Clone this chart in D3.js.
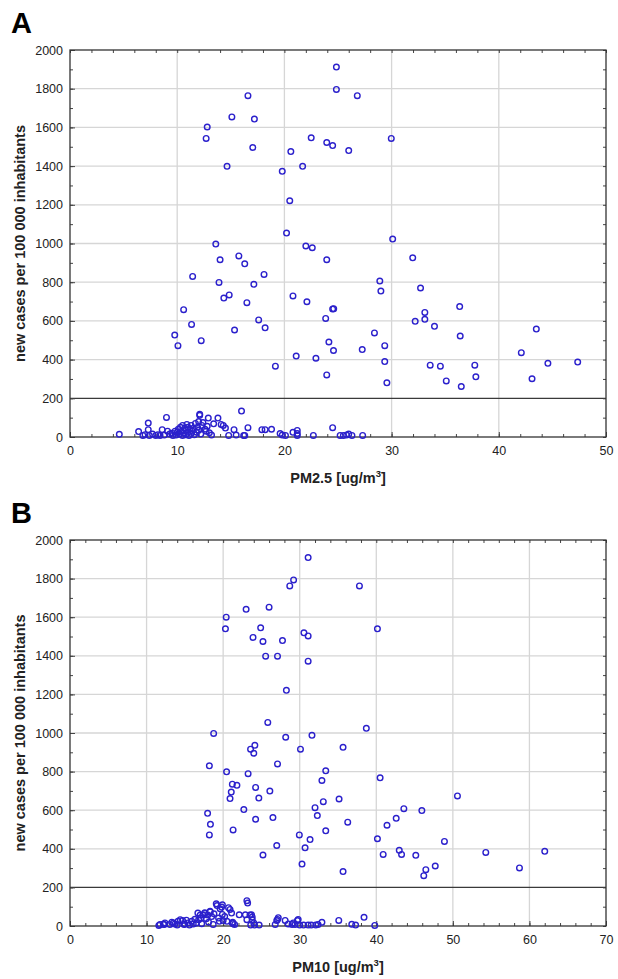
<!DOCTYPE html>
<html>
<head>
<meta charset="utf-8">
<script src="https://cdn.jsdelivr.net/npm/d3@7"></script>
<style>
  body { margin: 0; background: #fff; }
  text { font-family: "Liberation Sans", Arial, sans-serif; }
</style>
</head>
<body>
<svg id="chart" width="618" height="979"></svg>
<script>
// ---- data: [concentration, new cases per 100 000] ----
const pm25High = [
  [24.85,1912],[24.85,1796],[26.8,1764],[16.6,1764],[15.1,1654],[17.2,1643],[12.8,1602],[12.7,1543],
  [17.05,1496],[14.65,1399],[22.5,1546],[23.95,1522],[24.5,1506],[29.97,1543],[20.6,1475],[26.0,1480],
  [19.8,1373],[21.7,1399],[20.5,1221],[20.2,1054],[30.1,1023],[13.6,997],[22.0,987],[22.6,978],
  [15.75,936],[14.0,916],[23.95,916],[31.97,926],[16.3,895],[11.44,830],[18.1,840],[13.9,799],
  [17.15,789],[28.9,806],[29.0,754],[32.7,770],[14.35,718],[14.85,734],[20.8,729],[16.5,694],
  [22.1,699],[10.6,658],[24.5,661],[24.6,663],[33.1,644],[36.35,674],[17.6,605],[23.85,613],
  [32.2,598],[33.1,608],[11.34,582],[18.2,564],[15.35,553],[34.0,572],[9.77,527],[28.4,538],
  [12.24,498],[36.4,522],[43.5,558],[10.07,472],[24.15,491],[29.36,472],[27.26,452],[21.1,418],
  [22.94,407],[24.58,447],[42.1,436],[19.16,366],[29.36,390],[33.6,371],[34.55,366],[37.76,371],
  [44.58,381],[47.36,387],[23.95,321],[29.56,280],[35.1,290],[36.5,261],[37.86,311],[43.1,301]
]
const pm25Low = [
  [4.6,14],[6.4,28],[6.8,8],[7.0,12],[7.3,72],[7.3,38],[7.4,8],[7.7,15],[8.0,8],[8.2,12],[8.4,8],
  [8.6,38],[8.8,10],[9.0,101],[9.1,30],[9.3,15],[9.5,20],[9.6,8],[9.8,30],[9.9,10],[10.0,25],
  [10.1,40],[10.2,15],[10.3,50],[10.4,30],[10.5,8],[10.5,60],[10.6,20],[10.7,45],[10.8,35],
  [10.8,12],[10.9,65],[11.0,25],[11.0,50],[11.1,8],[11.2,40],[11.3,18],[11.3,60],[11.4,30],
  [11.5,45],[11.6,12],[11.7,70],[11.8,25],[11.9,50],[12.0,35],[12.0,80],[12.1,118],[12.1,112],
  [12.2,15],[12.3,60],[12.4,75],[12.6,40],[12.7,30],[12.8,55],[12.9,98],[13.0,22],[13.2,10],
  [13.4,68],[13.8,98],[14.1,65],[14.3,60],[14.5,46],[14.8,8],[15.3,38],[15.5,10],[16.0,134],
  [16.2,8],[16.3,8],[16.6,48],[17.9,38],[18.2,38],[18.8,40],[19.6,18],[19.8,10],[20.1,8],
  [20.8,24],[21.2,34],[21.2,18],[21.2,8],[22.7,8],[24.5,48],[25.2,8],[25.5,8],[25.8,10],
  [26.0,15],[26.3,8],[27.3,8]
]
const pm10High = [
  [31.1,1909],[29.2,1793],[28.7,1762],[37.8,1762],[23.0,1641],[26.0,1652],[20.4,1600],[20.3,1540],
  [24.9,1545],[23.9,1495],[25.2,1474],[27.75,1479],[30.55,1519],[31.1,1503],[40.15,1540],[25.55,1398],
  [27.1,1398],[31.1,1372],[28.26,1221],[25.83,1055],[18.76,998],[28.17,978],[31.6,988],[38.7,1024],
  [23.58,916],[24.14,936],[24.0,895],[30.1,916],[35.66,926],[18.2,830],[20.45,799],[23.26,789],
  [27.1,840],[33.4,804],[32.9,754],[40.5,768],[21.2,735],[21.8,729],[21.06,694],[24.24,718],
  [26.1,699],[20.9,660],[24.66,663],[33.08,644],[35.14,658],[50.6,674],[22.7,603],[32.0,613],
  [43.6,608],[45.95,598],[17.97,584],[24.24,553],[26.5,562],[32.3,572],[42.6,558],[18.34,527],
  [36.27,538],[41.4,522],[21.3,498],[18.2,472],[29.95,472],[33.4,493],[40.15,452],[31.35,448],
  [48.9,438],[27.0,417],[30.7,405],[43.0,392],[43.3,371],[40.9,371],[45.16,366],[54.3,381],
  [62.0,387],[25.2,368],[30.3,321],[35.66,282],[46.47,292],[46.2,261],[47.7,311],[58.7,301]
]
const pm10Low = [
  [11.6,3],[11.75,8],[12.2,9],[12.3,8],[12.4,16],[13.05,8],[13.3,20],[13.5,16],[13.7,11],[14.0,5],
  [14.1,24],[14.4,33],[14.7,28],[14.9,8],[15.0,11],[15.2,30],[15.4,16],[15.6,5],[15.9,24],[16.1,11],
  [16.3,35],[16.5,16],[16.7,67],[16.8,33],[17.0,57],[17.1,41],[17.2,12],[17.4,57],[17.6,69],
  [17.6,65],[17.8,38],[18.0,57],[18.1,20],[18.3,76],[18.3,73],[18.5,49],[18.7,8],[18.8,63],
  [19.1,115],[19.2,106],[19.4,41],[19.5,24],[19.6,90],[19.8,98],[19.9,110],[19.9,60],[20.0,28],
  [20.2,49],[20.5,24],[20.7,95],[20.9,86],[21.1,67],[21.2,16],[21.25,20],[21.3,12],[21.5,8],
  [22.1,58],[22.9,58],[23.1,131],[23.1,33],[23.2,119],[23.5,57],[23.7,58],[23.8,46],[23.8,33],
  [24.0,16],[23.6,5],[24.1,5],[24.7,5],[26.8,8],[27.0,28],[27.1,34],[27.2,43],[28.1,29],[28.5,11],
  [29.0,8],[29.15,16],[29.4,8],[29.7,28],[29.8,34],[30.0,5],[30.5,5],[31.1,5],[31.5,5],[32.1,5],
  [32.4,8],[32.9,19],[35.1,29],[36.8,9],[37.3,5],[38.4,45],[39.8,3]
]
const yTicks = [0, 200, 400, 600, 800, 1000, 1200, 1400, 1600, 1800, 2000]
const pm25Ticks = [0, 10, 20, 30, 40, 50]
const pm10Ticks = [0, 10, 20, 30, 40, 50, 60, 70]
const thresholdLine = 200
const yLabel = 'new cases per 100 000 inhabitants'

const svg = d3.select('#chart')
const left = 70, right = 606
const markColor = '#2b20cc'
const fmt = d3.format('d')

const drawPanel = (p) => {
  const x = d3.scaleLinear().domain([0, p.xMax]).range([left, right])
  const y = d3.scaleLinear().domain([0, 2000]).range([p.bottom, p.top])
  const g = svg.append('g')

  // grid
  g.append('g').selectAll('line')
    .data(p.xTicks.slice(1, -1))
    .join('line')
    .attr('x1', d => x(d)).attr('x2', d => x(d))
    .attr('y1', p.top).attr('y2', p.bottom)
    .attr('stroke', '#d6d6d6').attr('stroke-width', 1.3)
  g.append('g').selectAll('line')
    .data(yTicks.slice(1, -1).filter(d => d !== thresholdLine))
    .join('line')
    .attr('x1', left).attr('x2', right)
    .attr('y1', d => y(d)).attr('y2', d => y(d))
    .attr('stroke', '#d6d6d6').attr('stroke-width', 1.3)

  // 200 line
  g.append('line')
    .attr('x1', left).attr('x2', right)
    .attr('y1', y(thresholdLine)).attr('y2', y(thresholdLine))
    .attr('stroke', '#3a3a3a').attr('stroke-width', 1.2)

  // minor + major ticks, inward on all sides
  const xMinor = d3.range(0, p.xMax + 0.01, 2)
  const yMinor = d3.range(0, 2001, 100)
  const tickStyle = sel => {
    sel.select('.domain').remove()
    sel.selectAll('line').attr('stroke', '#444')
    sel.selectAll('text').remove()
  }
  g.append('g').attr('transform', `translate(0,${p.bottom})`)
    .call(d3.axisBottom(x).tickValues(xMinor).tickSize(-3)).call(tickStyle)
  g.append('g').attr('transform', `translate(0,${p.top})`)
    .call(d3.axisTop(x).tickValues(xMinor).tickSize(-3)).call(tickStyle)
  g.append('g').attr('transform', `translate(${left},0)`)
    .call(d3.axisLeft(y).tickValues(yMinor).tickSize(-3)).call(tickStyle)
  g.append('g').attr('transform', `translate(${right},0)`)
    .call(d3.axisRight(y).tickValues(yMinor).tickSize(-3)).call(tickStyle)

  // labels
  const xAxis = g.append('g').attr('transform', `translate(0,${p.bottom})`)
    .call(d3.axisBottom(x).tickValues(p.xTicks).tickFormat(fmt).tickSize(-5).tickPadding(9))
  xAxis.select('.domain').remove()
  xAxis.selectAll('line').attr('stroke', '#444')
  xAxis.selectAll('text').attr('font-size', 12.5).attr('fill', '#222')
    .style('font-family', '"Liberation Sans", Arial, sans-serif')

  const yAxis = g.append('g').attr('transform', `translate(${left},0)`)
    .call(d3.axisLeft(y).tickValues(yTicks).tickFormat(fmt).tickSize(-5).tickPadding(7))
  yAxis.select('.domain').remove()
  yAxis.selectAll('line').attr('stroke', '#444')
  yAxis.selectAll('text').attr('font-size', 12.5).attr('fill', '#222')
    .style('font-family', '"Liberation Sans", Arial, sans-serif')

  // frame
  g.append('rect')
    .attr('x', left).attr('y', p.top)
    .attr('width', right - left).attr('height', p.bottom - p.top)
    .attr('fill', 'none').attr('stroke', '#333').attr('stroke-width', 1.3)

  // points
  g.append('g').selectAll('circle')
    .data(p.high.concat(p.low))
    .join('circle')
    .attr('cx', d => x(d[0]))
    .attr('cy', d => y(d[1]))
    .attr('r', 2.8)
    .attr('fill', 'none')
    .attr('stroke', markColor)
    .attr('stroke-width', 1.4)

  // titles
  const xt = g.append('text')
    .attr('x', (left + right) / 2).attr('y', p.bottom + 46)
    .attr('text-anchor', 'middle')
    .attr('font-size', 14.5).attr('font-weight', 'bold').attr('fill', '#222')
  xt.append('tspan').text(p.name + ' [ug/m')
  xt.append('tspan').text('3').attr('font-size', 9.5).attr('dy', -6)
  xt.append('tspan').text(']').attr('dy', 6)

  g.append('text')
    .attr('transform', `translate(25,${(p.top + p.bottom) / 2}) rotate(-90)`)
    .attr('text-anchor', 'middle')
    .attr('font-size', 14.5).attr('font-weight', 'bold').attr('fill', '#222')
    .text(yLabel)

  g.append('text')
    .attr('x', 11).attr('y', p.top - 17)
    .attr('font-size', 29).attr('font-weight', 'bold').attr('fill', '#000')
    .text(p.letter)
}

drawPanel({ letter: 'A', name: 'PM2.5', top: 50, bottom: 437, xMax: 50,
  xTicks: pm25Ticks, high: pm25High, low: pm25Low })
drawPanel({ letter: 'B', name: 'PM10', top: 540, bottom: 926, xMax: 70,
  xTicks: pm10Ticks, high: pm10High, low: pm10Low })
</script>
</body>
</html>
